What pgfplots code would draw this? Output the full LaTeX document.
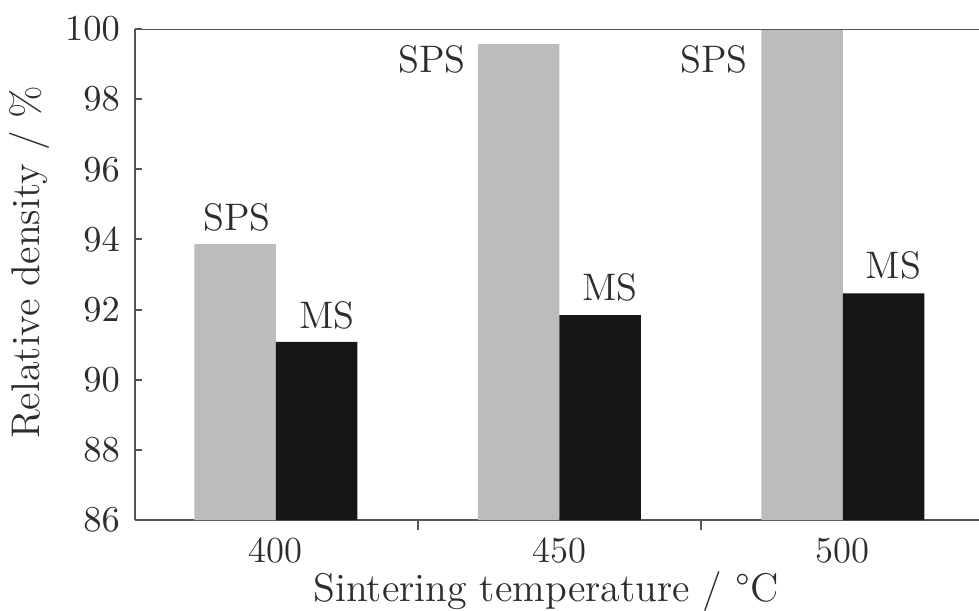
\documentclass[border=0pt]{standalone}
\usepackage{pgfplots}
\pgfplotsset{compat=1.18}
\definecolor{spsgray}{RGB}{186,188,190}
\definecolor{msblack}{RGB}{22,22,20}
\definecolor{axgray}{RGB}{85,85,85}
\definecolor{txt}{RGB}{45,45,45}
\begin{document}
\begin{tikzpicture}
\path[use as bounding box] (-40.5pt,-27pt) rectangle (253.2pt,156pt);
\begin{axis}[
  at={(0pt,0pt)}, anchor=south west,
  scale only axis, width=253.2pt, height=147.3pt,
  xmin=-0.497, xmax=2.48, ymin=86, ymax=100,
  axis lines*=left,
  axis line style={-, draw=axgray, line width=0.8pt},
  ytick={86,88,...,100},
  xtick={0,1,2}, xticklabels={400,450,500},
  minor xtick={0.5,1.5},
  tick align=inside,
  major tick length=2.2pt, minor tick length=3pt,
  tick style={draw=axgray, line width=0.6pt},
  major x tick style={draw=none},
  font=\fontsize{11}{13}\selectfont,
  every tick label/.append style={text=txt},
  xticklabel style={yshift=0.4pt},
  yticklabel style={xshift=-1pt},
  xlabel={Sintering temperature / \textdegree C},
  ylabel={Relative density / \%},
  xlabel style={at={(axis description cs:0.487,0)}, anchor=center, yshift=-21.3pt, text=txt, font=\fontsize{12}{14}\selectfont},
  ylabel style={at={(axis description cs:0,0.525)}, anchor=center, yshift=31.5pt, text=txt, font=\fontsize{12}{14}\selectfont},
  ybar, bar width=0.2875,
  clip=true,
]
\addplot[ybar, bar shift=-0.14375, fill=spsgray, draw=none] coordinates {(0,93.87) (1,99.57) (2,100.0)};
\addplot[ybar, bar shift=0.14375, fill=msblack, draw=none] coordinates {(0,91.08) (1,91.84) (2,92.46)};
\draw[axgray, line width=0.8pt] (rel axis cs:0,1) -- (rel axis cs:1,1);
\node[text=txt, font=\fontsize{11.5}{13}\selectfont] at (axis cs:-0.138,94.64) {SPS};
\node[text=txt, font=\fontsize{11.5}{13}\selectfont] at (axis cs:0.18,91.84) {MS};
\node[text=txt, font=\fontsize{11.5}{13}\selectfont] at (axis cs:0.55,99.12) {SPS};
\node[text=txt, font=\fontsize{11.5}{13}\selectfont] at (axis cs:1.178,92.64) {MS};
\node[text=txt, font=\fontsize{11.5}{13}\selectfont] at (axis cs:1.545,99.12) {SPS};
\node[text=txt, font=\fontsize{11.5}{13}\selectfont] at (axis cs:2.178,93.27) {MS};
\end{axis}
\end{tikzpicture}
\end{document}
